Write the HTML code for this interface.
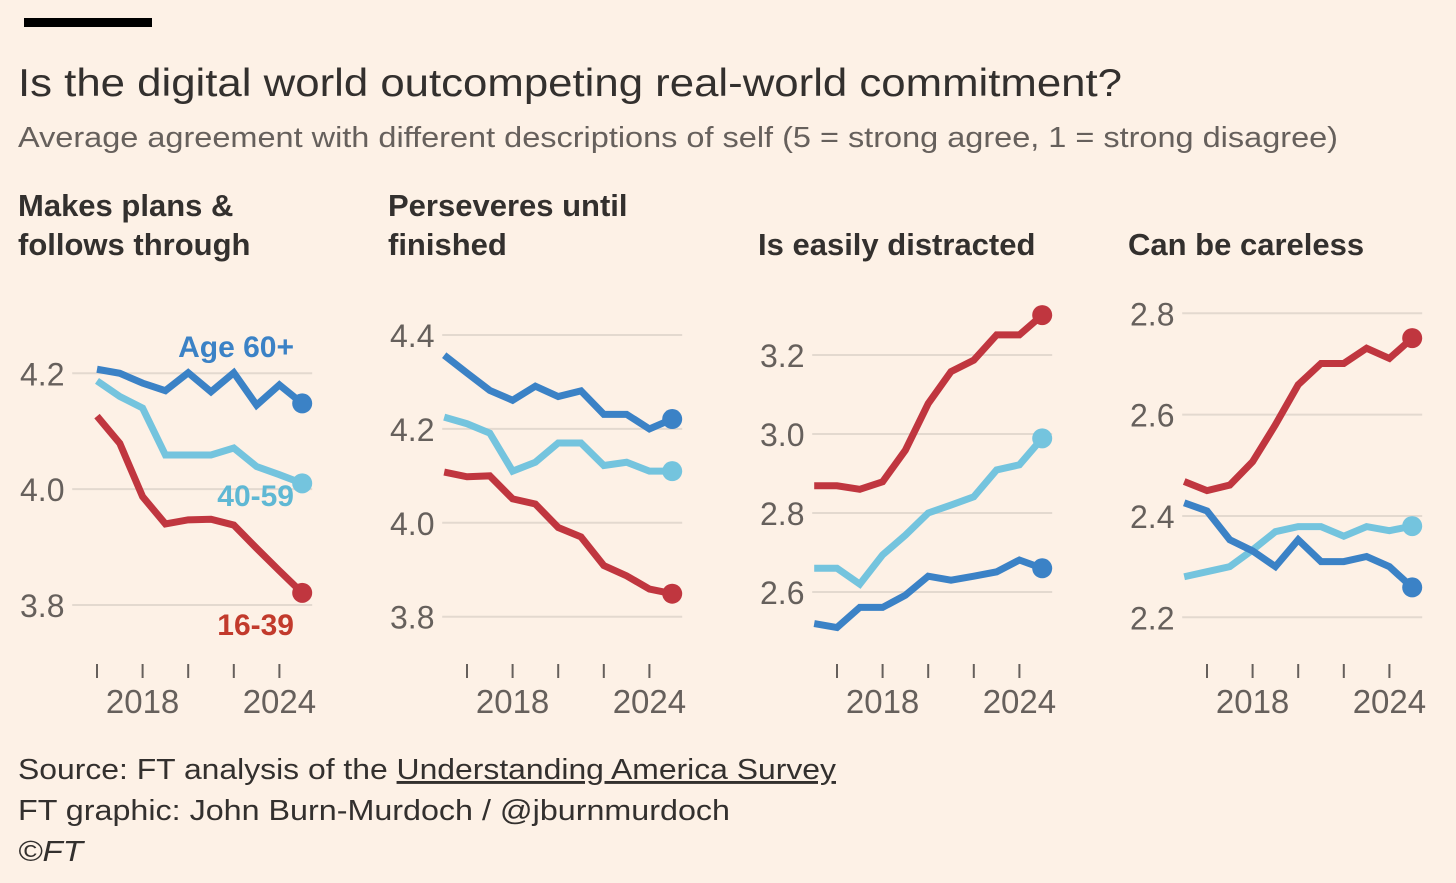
<!DOCTYPE html>
<html><head><meta charset="utf-8"><style>
html,body{margin:0;padding:0;background:#fdf1e6;}
svg{display:block;font-family:"Liberation Sans",sans-serif;}
</style></head><body>
<svg id="chart" width="1456" height="883" viewBox="0 0 1456 883">
<rect x="0" y="0" width="1456" height="883" fill="#fdf1e6"/>
<rect x="24" y="18" width="128" height="9" fill="#000"/>
<text x="18" y="96" font-size="39" fill="#33302e" textLength="1104" lengthAdjust="spacingAndGlyphs">Is the digital world outcompeting real-world commitment?</text>
<text x="18" y="147" font-size="29" fill="#66605c" textLength="1320" lengthAdjust="spacingAndGlyphs">Average agreement with different descriptions of self (5 = strong agree, 1 = strong disagree)</text>
<g id="panels"></g>
<g font-size="29" fill="#33302e">
<text x="18" y="779" textLength="818" lengthAdjust="spacingAndGlyphs">Source: FT analysis of the <tspan text-decoration="underline">Understanding America Survey</tspan></text>
<text x="18" y="820" textLength="712" lengthAdjust="spacingAndGlyphs">FT graphic: John Burn-Murdoch / @jburnmurdoch</text>
<text x="18" y="861" font-style="italic" textLength="65" lengthAdjust="spacingAndGlyphs">©FT</text>
</g>
</svg>
<script>
const years1 = [2016,2017,2018,2019,2020,2021,2022,2023,2024,2025];
const years = [2015,2016,2017,2018,2019,2020,2021,2022,2023,2024,2025];
const xTickYears = [2016,2018,2020,2022,2024];
const xTickLabels = ["2018","2024"];
const xTickLabelYears = [2018,2024];

const p1Old = [4.207,4.2,4.183,4.17,4.201,4.168,4.201,4.145,4.18,4.148];
const p1Mid = [4.187,4.16,4.14,4.059,4.059,4.059,4.071,4.039,4.025,4.01];
const p1Young = [4.126,4.079,3.987,3.94,3.947,3.948,3.938,3.898,3.859,3.821];

const p2Old = [4.357,4.319,4.282,4.261,4.291,4.269,4.281,4.231,4.231,4.2,4.221];
const p2Mid = [4.225,4.211,4.191,4.11,4.129,4.17,4.17,4.122,4.129,4.11,4.11];
const p2Young = [4.108,4.098,4.1,4.051,4.04,3.99,3.97,3.909,3.887,3.859,3.849];

const p3Old = [2.52,2.51,2.561,2.561,2.592,2.64,2.63,2.64,2.651,2.681,2.66];
const p3Mid = [2.66,2.66,2.62,2.694,2.744,2.8,2.82,2.841,2.909,2.922,2.989];
const p3Young = [2.869,2.869,2.86,2.879,2.959,3.077,3.158,3.187,3.251,3.251,3.301];

const p4Old = [2.426,2.41,2.353,2.331,2.3,2.353,2.31,2.31,2.32,2.3,2.259];
const p4Mid = [2.28,2.29,2.3,2.333,2.369,2.379,2.379,2.36,2.379,2.371,2.38];
const p4Young = [2.468,2.45,2.461,2.507,2.58,2.659,2.701,2.701,2.731,2.711,2.751];

const yTicks1 = [3.8,4.0,4.2];
const yTicks2 = [3.8,4.0,4.2,4.4];
const yTicks3 = [2.6,2.8,3.0,3.2];
const yTicks4 = [2.2,2.4,2.6,2.8];
const yTickLabels1 = ["3.8","4.0","4.2"];
const yTickLabels2 = ["3.8","4.0","4.2","4.4"];
const yTickLabels3 = ["2.6","2.8","3.0","3.2"];
const yTickLabels4 = ["2.2","2.4","2.6","2.8"];

const panels = [
  {title:["Makes plans &","follows through"], yrs:years1, series:[p1Young,p1Mid,p1Old], ticks:yTicks1, labels:yTickLabels1, lo:[3.8,605], hi:[4.2,373.3]},
  {title:["Perseveres until","finished"], yrs:years, series:[p2Young,p2Mid,p2Old], ticks:yTicks2, labels:yTickLabels2, lo:[3.8,616.7], hi:[4.4,335]},
  {title:["Is easily distracted"], yrs:years, series:[p3Young,p3Mid,p3Old], ticks:yTicks3, labels:yTickLabels3, lo:[2.6,592], hi:[3.2,355]},
  {title:["Can be careless"], yrs:years, series:[p4Young,p4Mid,p4Old], ticks:yTicks4, labels:yTickLabels4, lo:[2.2,617.3], hi:[2.8,313.3]}
];
const colors = ["#c0363f","#74c4de","#3b82c6"];
const seriesNames = ["age-16-39","age-40-59","age-60-plus"];
const NS = "http://www.w3.org/2000/svg";
const root = document.getElementById("panels");
function mk(tag, attrs, parent){const e=document.createElementNS(NS,tag);for(const k in attrs)e.setAttribute(k,attrs[k]);parent.appendChild(e);return e;}

panels.forEach((p,i)=>{
  const off = 370*i;
  const x = yr => 97 + off + (yr-2016)*22.8;
  const y = v => p.lo[1] + (v-p.lo[0])*(p.hi[1]-p.lo[1])/(p.hi[0]-p.lo[0]);
  const g = mk("g",{},root);
  
  
  const tLines = p.title;
  tLines.forEach((t,j)=>{
    const ty = tLines.length===2 ? 216+j*39 : 255;
    const te = mk("text",{x:18+off,y:ty,"font-size":31,"font-weight":"bold",fill:"#33302e"},g);
    te.textContent = t;
    
    
  });
  p.ticks.forEach((tv,j)=>{
    const gy = y(tv);
    const ln = mk("line",{x1:x(2015)-2,x2:x(2025)+10,y1:gy,y2:gy,stroke:"#e3d9cf","stroke-width":2},g);
    
    
    const lt = mk("text",{x:20+off,y:gy+12,"font-size":32,fill:"#66605c"},g);
    lt.textContent = p.labels[j];
    
    
  });
  xTickYears.forEach(yr=>{
    const tk = mk("line",{x1:x(yr),x2:x(yr),y1:664,y2:678,stroke:"#66605c","stroke-width":2},g);
    
    
  });
  xTickLabelYears.forEach((yr,j)=>{
    const lt = mk("text",{x:x(yr),y:713,"font-size":33,fill:"#66605c","text-anchor":"middle"},g);
    lt.textContent = xTickLabels[j];
    
    
  });
  p.series.forEach((s,k)=>{
    const pts = s.map((v,j)=>x(p.yrs[j])+","+y(v)).join(" ");
    const pl = mk("polyline",{points:pts,fill:"none",stroke:colors[k],"stroke-width":7,"stroke-linejoin":"miter","stroke-miterlimit":3},g);
    
    
    const last = s.length-1;
    const c = mk("circle",{cx:x(p.yrs[last]),cy:y(s[last]),r:10,fill:colors[k]},g);
    
    
  });
  if(i===0){
    const labs = [["16-39","#c23a2c",635],["40-59","#5fb8d4",506],["Age 60+","#3b82c6",357]];
    labs.forEach((l,k)=>{
      const t = mk("text",{x:294,y:l[2],"font-size":30,fill:l[1],"text-anchor":"end","font-weight":"bold"},g);
      t.textContent = l[0];
      
      
    });
  }
});
</script>
</body></html>
